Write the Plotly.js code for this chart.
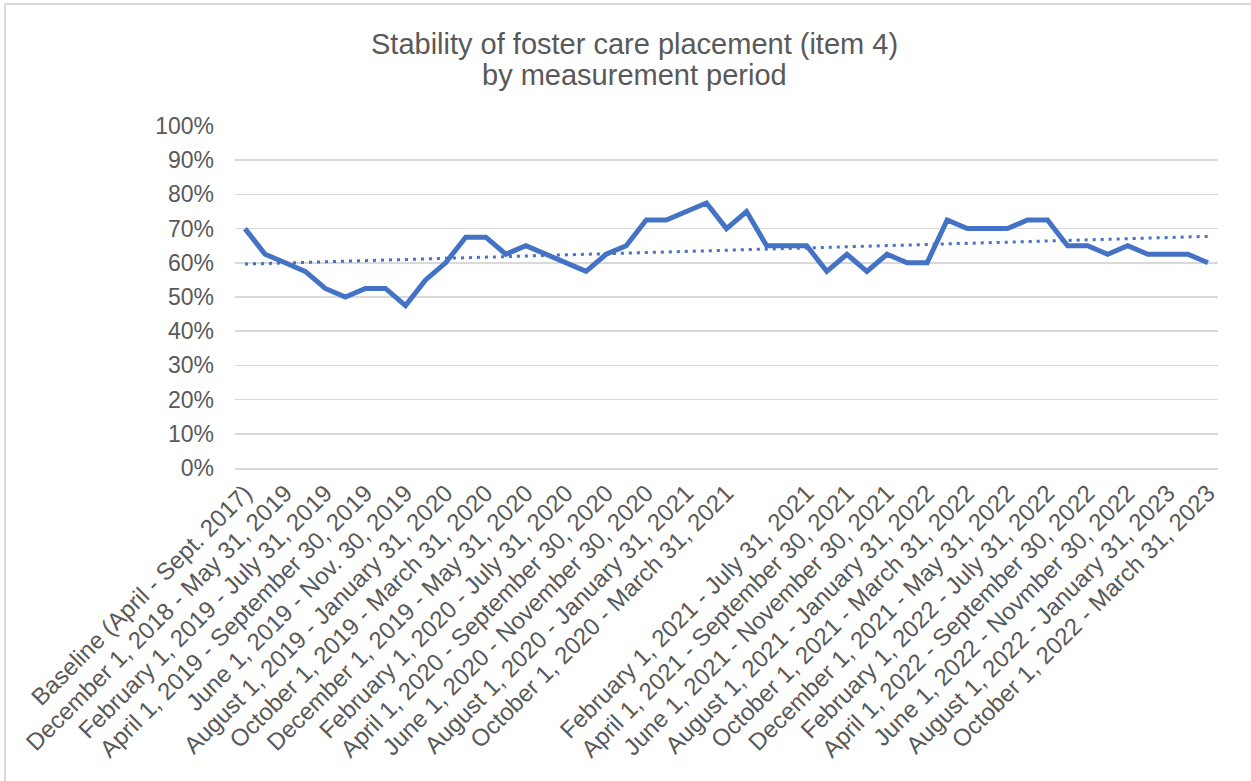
<!DOCTYPE html>
<html>
<head>
<meta charset="utf-8">
<script src="https://cdn.plot.ly/plotly-3.0.1.min.js"></script>
<style>
  html, body { margin: 0; padding: 0; background: #ffffff; }
  #chart { width: 1251px; height: 781px; }
</style>
</head>
<body>
<div id="chart"></div>
<script>
// Measurement periods (49 rolling periods); only every other one is labelled on the axis
const periodLabels = [
  "Baseline (April - Sept. 2017)",
  "December 1, 2018 - May 31, 2019",
  "February 1, 2019 - July 31, 2019",
  "April 1, 2019 - September 30, 2019",
  "June 1, 2019 - Nov. 30, 2019",
  "August 1, 2019 - January 31, 2020",
  "October 1, 2019 - March 31, 2020",
  "December 1, 2019 - May 31, 2020",
  "February 1, 2020 - July 31, 2020",
  "April 1, 2020 - September 30, 2020",
  "June 1, 2020 - November 30, 2020",
  "August 1, 2020 - January 31, 2021",
  "October 1, 2020 - March 31, 2021",
  "",
  "February 1, 2021 - July 31, 2021",
  "April 1, 2021 - September 30, 2021",
  "June 1, 2021 - November 30, 2021",
  "August 1, 2021 - January 31, 2022",
  "October 1, 2021 - March 31, 2022",
  "December 1, 2021 - May 31, 2022",
  "February 1, 2022 - July 31, 2022",
  "April 1, 2022 - September 30, 2022",
  "June 1, 2022 - Novmber 30, 2022",
  "August 1, 2022 - January 31, 2023",
  "October 1, 2022 - March 31, 2023"
];

// Percent of cases with stable placement, one value per measurement period
const stabilityPct = [
  70, 62.5, 60, 57.5, 52.5, 50, 52.5, 52.5, 47.5, 55,
  60, 67.5, 67.5, 62.5, 65, 62.5, 60, 57.5, 62.5, 65,
  72.5, 72.5, 75, 77.5, 70, 75, 65, 65, 65, 57.5,
  62.5, 57.5, 62.5, 60, 60, 72.5, 70, 70, 70, 72.5,
  72.5, 65, 65, 62.5, 65, 62.5, 62.5, 62.5, 60
];

const yTicks = [0, 10, 20, 30, 40, 50, 60, 70, 80, 90, 100];

const titleLines = ["Stability of foster care placement (item 4)", "by measurement period"];

// x positions = period index
const xIdx = stabilityPct.map((_, i) => i);
const labelEvery = 2;
const tickPos = periodLabels.map((_, i) => i * labelEvery);

// Linear trendline (least squares), as Excel's linear trendline
const n = stabilityPct.length;
const mx = xIdx.reduce((a, b) => a + b, 0) / n;
const my = stabilityPct.reduce((a, b) => a + b, 0) / n;
let sxy = 0, sxx = 0;
for (let i = 0; i < n; i++) { sxy += (xIdx[i] - mx) * (stabilityPct[i] - my); sxx += (xIdx[i] - mx) ** 2; }
const slope = sxy / sxx, intercept = my - slope * mx;
const trend = xIdx.map(x => intercept + slope * x);

const FONT = "Liberation Sans, Arial, sans-serif";
const GREY = "#595959";

const data = [
  {
    x: xIdx, y: stabilityPct, type: "scatter", mode: "lines",
    line: { color: "#4472C4", width: 5, shape: "linear" },
    hoverinfo: "y", showlegend: false
  },
  {
    x: xIdx, y: trend, type: "scatter", mode: "lines",
    line: { color: "#4472C4", width: 3, dash: "3px,5px" },
    hoverinfo: "skip", showlegend: false
  }
];

const H = 781, W = 1251;
const layout = {
  width: W, height: H,
  margin: { l: 235, r: 33, t: 126, b: 313 },
  paper_bgcolor: "#ffffff", plot_bgcolor: "#ffffff",
  font: { family: FONT, color: GREY, size: 23 },
  annotations: titleLines.map((t, i) => ({
    text: t, showarrow: false,
    xref: "paper", yref: "paper",
    x: (634 - 235) / 983, xanchor: "center",
    y: (468 - (44 + i * 31)) / 342, yanchor: "middle",
    font: { family: FONT, size: 29, color: GREY }
  })),
  xaxis: {
    range: [-0.5, n - 0.5],
    tickmode: "array", tickvals: tickPos, ticktext: periodLabels,
    tickangle: -45,
    tickfont: { family: FONT, size: 24, color: GREY },
    showgrid: false, zeroline: false,
    showline: true, linecolor: "#D9D9D9", linewidth: 1.5,
    ticks: "", fixedrange: true
  },
  yaxis: {
    range: [0, 100],
    tickmode: "array", tickvals: yTicks,
    ticktext: yTicks.map(v => v + "%"),
    tickfont: { family: FONT, size: 23, color: GREY },
    showgrid: true, gridcolor: "#D9D9D9", gridwidth: 1.5,
    zeroline: false, showline: false, ticks: "",
    ticklabelstandoff: 20, fixedrange: true
  },
  shapes: [
    { type: "line", xref: "paper", yref: "paper", x0: -230 / 983, x1: -230 / 983, y0: 464 / 342, y1: -2, line: { color: "#D9D9D9", width: 2 } },
    { type: "line", xref: "paper", yref: "paper", x0: -230 / 983, x1: 2, y0: 464 / 342, y1: 464 / 342, line: { color: "#D9D9D9", width: 2 } }
  ]
};

Plotly.newPlot("chart", data, layout, { displayModeBar: false, staticPlot: true });
</script>
</body>
</html>
